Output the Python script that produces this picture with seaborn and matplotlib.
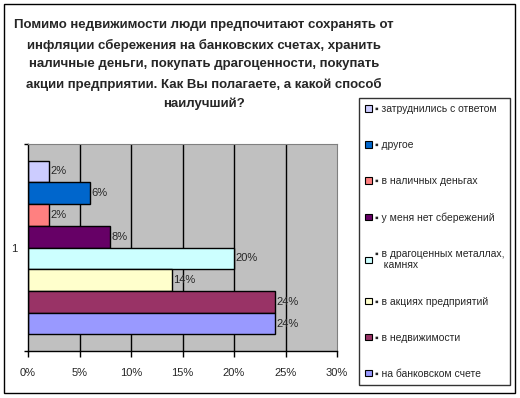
import numpy as np
import pandas as pd
import seaborn as sns
import matplotlib.pyplot as plt
from matplotlib.patches import Rectangle
from matplotlib.ticker import FuncFormatter

answers = ['затруднились с ответом', 'другое', 'в наличных деньгах',
           'у меня нет сбережений', 'в драгоценных металлах,\nкамнях',
           'в акциях предприятий', 'в недвижимости', 'на банковском счете']
values = [2, 6, 2, 8, 20, 14, 24, 24]
colors = ['#CCCCFF', '#0066CC', '#FF8080', '#660066',
          '#CCFFFF', '#FFFFCC', '#993366', '#9999FF']
group = ['1'] * len(answers)
x_ticks = [0, 5, 10, 15, 20, 25, 30]

title = ('Помимо недвижимости люди предпочитают сохранять от\n'
         'инфляции сбережения на банковских счетах, хранить\n'
         'наличные деньги, покупать драгоценности, покупать\n'
         'акции предприятии. Как Вы полагаете, а какой способ\n'
         'наилучший?')

df = pd.DataFrame({'group': group, 'answer': answers, 'value': values})

sns.set_style('white')
plt.rcParams['font.family'] = ['Liberation Sans', 'DejaVu Sans']

fig = plt.figure(figsize=(5.2, 3.98), dpi=100)
ax = fig.add_axes([28 / 520, 1 - 351 / 398, 309 / 520, 207 / 398])

sns.barplot(data=df, x='value', y='group', hue='answer', hue_order=answers,
            palette=colors, orient='h', width=0.84, dodge=True,
            edgecolor='black', linewidth=1, saturation=1, ax=ax)

ax.set_facecolor('#C0C0C0')
ax.set_xlim(0, 30)
ax.set_ylim(0.5, -0.5)
ax.set_xticks(x_ticks)
ax.xaxis.set_major_formatter(FuncFormatter(lambda v, p: f'{v:.0f}%'))
ax.tick_params(axis='x', length=4, width=1, color='black', pad=8,
               labelsize=8, direction='out', bottom=True)
ax.set_yticks([0])
ax.set_yticklabels(['1'])
ax.set_yticks([-0.5, 0.5], minor=True)
ax.tick_params(axis='y', which='major', length=0, pad=8, labelsize=8)
ax.tick_params(axis='y', which='minor', length=3, width=1, color='black',
               direction='out', left=True)
ax.set_xlabel('')
ax.set_ylabel('')
for v in x_ticks[1:-1]:
    ax.axvline(v, color='black', lw=1, zorder=0.5)
for side in ['top', 'right']:
    ax.spines[side].set_color('#808080')
for side in ['left', 'bottom']:
    ax.spines[side].set_color('black')
    ax.spines[side].set_linewidth(1)

for c in ax.containers:
    ax.bar_label(c, fmt='%d%%', padding=1, fontsize=8)

old = ax.get_legend()
handles = old.legend_handles
old.remove()
for h in handles:
    h.set_edgecolor('black')
    h.set_linewidth(0.8)
labels = ['▪ ' + a.replace('\n', '\n   ') for a in answers]
leg = fig.legend(handles, labels, loc='upper left',
                 bbox_to_anchor=(359 / 520, 1 - 98 / 398), frameon=True,
                 fancybox=False, edgecolor='black', fontsize=7.5,
                 handlelength=0.6, handleheight=0.6, handletextpad=0.3,
                 labelspacing=2.5, borderpad=0.6, borderaxespad=0)
leg.get_frame().set_linewidth(1)
leg.set_zorder(3)

fig.text(204 / 520, 1 - 19 / 398, title, ha='center', va='top',
         fontsize=9.5, fontweight='bold', linespacing=1.75)

fig.patches.append(Rectangle((4 / 520, 5 / 398), 511 / 520, 389 / 398,
                             transform=fig.transFigure, fill=False,
                             edgecolor='black', lw=1))

fig.savefig('out.png', dpi=100)
